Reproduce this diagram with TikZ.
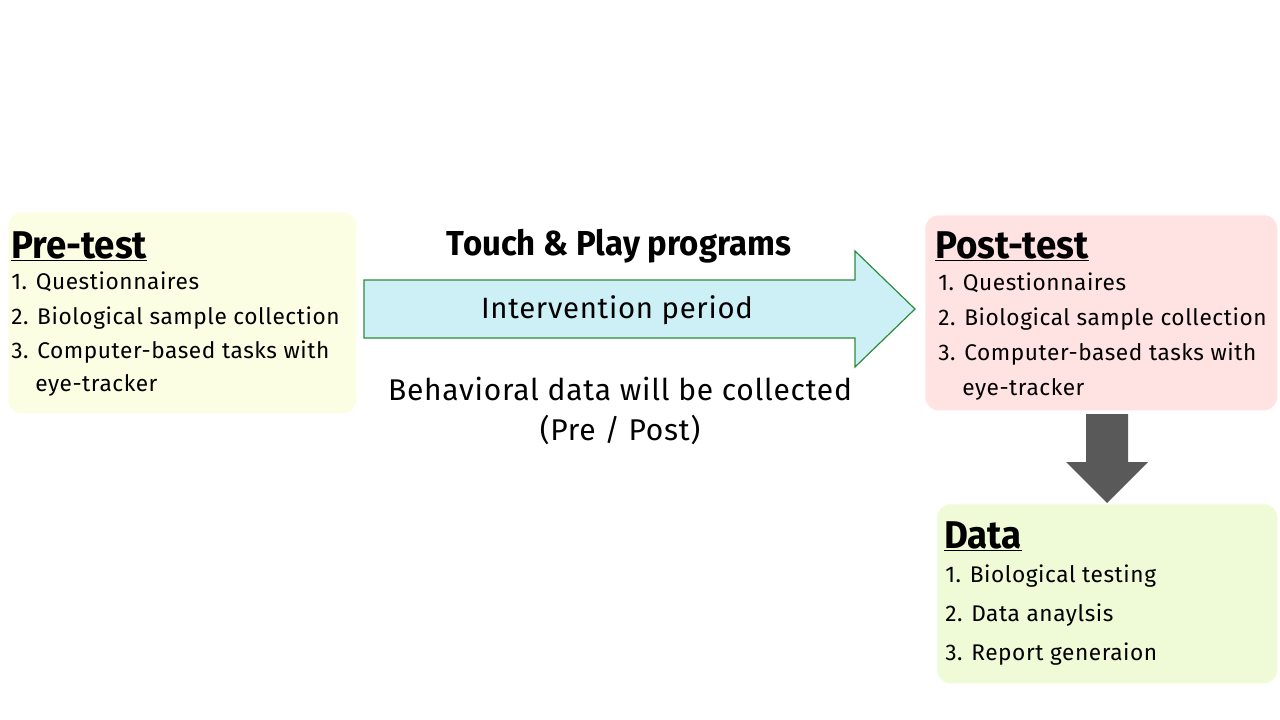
\documentclass[tikz,border=0pt]{standalone}
\usepackage{fontspec}
\setmainfont[LetterSpace=2.5]{Fira Sans}
\newfontfamily\titlefont[FakeStretch=0.95]{Fira Sans}
\definecolor{preyel}{HTML}{FCFEE4}
\definecolor{postpink}{HTML}{FFE3E3}
\definecolor{datagreen}{HTML}{EEFBD6}
\definecolor{arrowcyan}{HTML}{CCF0F6}
\definecolor{arrowgreen}{HTML}{2F8A3C}
\definecolor{darkarrow}{HTML}{595959}
\tikzset{
  panel/.style={draw=none, rounded corners=10pt, anchor=north west, inner sep=0pt},
  ttl/.style={anchor=base west, inner sep=0pt, font=\titlefont\bfseries\fontsize{29}{30}\selectfont},
  item/.style={anchor=base west, inner sep=0pt, font=\fontsize{17}{18}\selectfont},
  midtxt/.style={anchor=base, inner sep=0pt},
}
\begin{document}
\begin{tikzpicture}[x=0.75pt,y=-0.75pt]
\useasboundingbox (0,0) rectangle (1280,720);
% panels
\node[panel, fill=preyel, minimum width=261pt, minimum height=150.75pt] (pre) at (8,212) {};
\node[panel, fill=postpink, minimum width=264pt, minimum height=146.25pt] (post) at (925,215) {};
\node[panel, fill=datagreen, minimum width=255pt, minimum height=134.25pt] (data) at (937,504) {};
% pre-test
\node[ttl] (pretitle) at (11,258) {\underline{Pre-test}};
\node[item] (pre1) at (11,289) {1. Questionnaires};
\node[item] (pre2) at (11,324) {2. Biological sample collection};
\node[item] (pre3) at (11,358) {3. Computer-based tasks with};
\node[item] (pre4) at (35,391) {eye-tracker};
% post-test
\node[ttl] (posttitle) at (935,258) {\underline{Post-test}};
\node[item] (post1) at (938,290) {1. Questionnaires};
\node[item] (post2) at (938,325) {2. Biological sample collection};
\node[item] (post3) at (938,360) {3. Computer-based tasks with};
\node[item] (post4) at (962,395) {eye-tracker};
% data
\node[ttl] (datatitle) at (944,548) {\underline{Data}};
\node[item] (data1) at (945,582) {1. Biological testing};
\node[item] (data2) at (945,621) {2. Data anaylsis};
\node[item] (data3) at (945,660) {3. Report generaion};
% big arrow
\draw[fill=arrowcyan, draw=arrowgreen, line width=0.9pt, line join=miter]
  (364,280) -- (855,280) -- (855,251) -- (915,309) -- (855,367) -- (855,338) -- (364,338) -- cycle;
\node[midtxt, font=\titlefont\bfseries\fontsize{26}{28}\selectfont] (touch) at (619,255) {Touch \& Play programs};
\node[midtxt, font=\fontsize{22}{24}\selectfont] (interv) at (617,318) {Intervention period};
\node[midtxt, font=\fontsize{22.5}{24}\selectfont] (behav) at (620,400) {Behavioral data will be collected};
\node[midtxt, font=\fontsize{22.5}{24}\selectfont] (prepost) at (620,440) {(Pre / Post)};
% down arrow
\fill[darkarrow] (1086,414) -- (1128,414) -- (1128,462) -- (1148,462) -- (1107,503) -- (1066,462) -- (1086,462) -- cycle;
\end{tikzpicture}
\end{document}
